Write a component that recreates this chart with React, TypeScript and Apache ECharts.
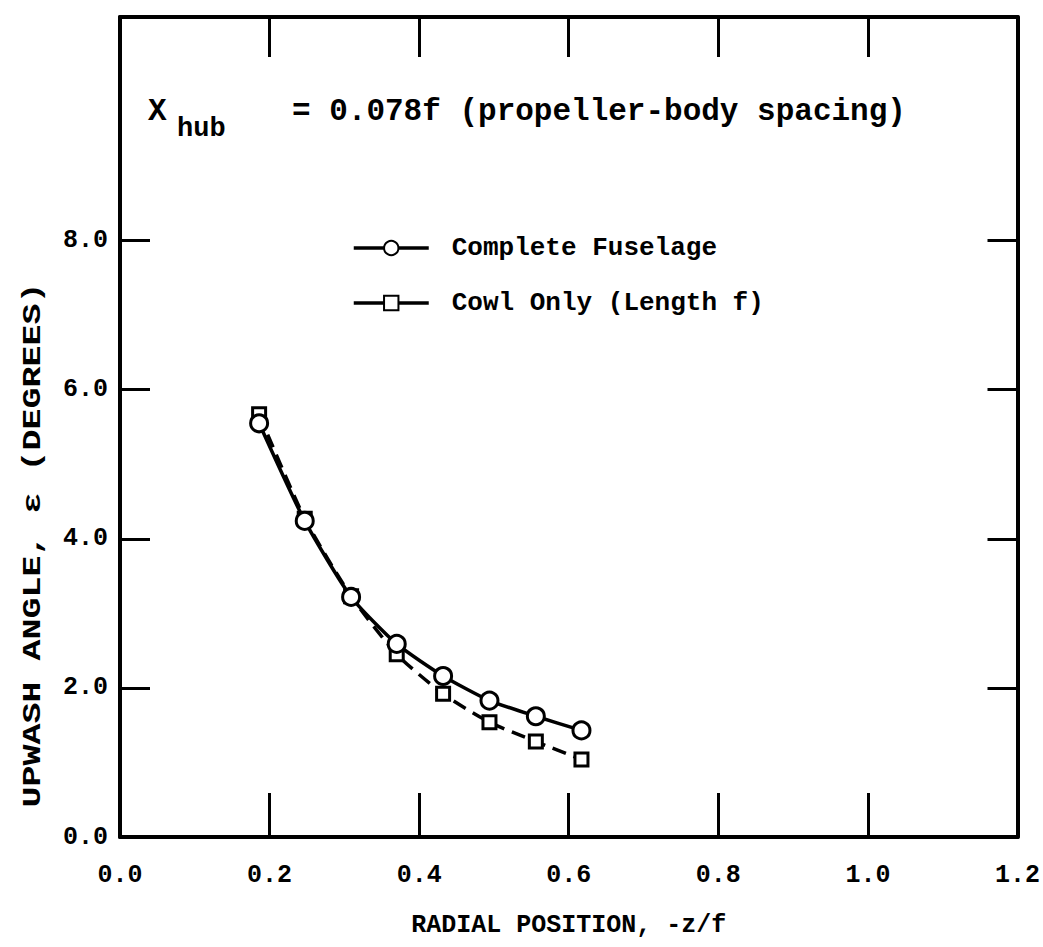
import React, { useEffect, useRef } from "react";
import * as echarts from "echarts";

const radialPosition = [0.186, 0.247, 0.309, 0.370, 0.432, 0.494, 0.556, 0.617];
const completeFuselage = [5.55, 4.24, 3.22, 2.59, 2.16, 1.83, 1.62, 1.43];
const cowlOnly = [5.67, 4.27, 3.23, 2.45, 1.92, 1.54, 1.28, 1.04];
const yTickValues = [2, 4, 6, 8];
const yLabelValues = [0, 2, 4, 6, 8];

const FONT = "Liberation Mono";

export default function App() {
  const ref = useRef<HTMLDivElement>(null);
  useEffect(() => {
    if (!ref.current) return;
    const chart = echarts.init(ref.current, undefined, { renderer: "svg" });
    const axisLine = { show: true, onZero: false, lineStyle: { color: "#000", width: 4 } };
    const xCommon = {
      type: "value" as const,
      min: 0,
      max: 1.2,
      interval: 0.2,
      splitLine: { show: false },
      axisLine,
    };
    const yCommon = {
      type: "value" as const,
      min: 0,
      max: 11,
      interval: 2,
      splitLine: { show: false },
      axisLine,
    };
    chart.setOption({
      animation: false,
      backgroundColor: "#fff",
      grid: { left: 120, right: 20, top: 17, bottom: 110, containLabel: false },
      legend: {
        orient: "vertical",
        left: 347,
        top: 228,
        itemWidth: 75,
        itemHeight: 18,
        itemGap: 25,
        lineStyle: { type: "solid", width: 3.5, color: "#000" },
        textStyle: {
          fontSize: 26,
          fontFamily: FONT,
          fontWeight: "bold",
          color: "#000",
          padding: [0, 0, 0, 18],
          lineHeight: 30,
        },
        data: ["Complete Fuselage", "Cowl Only (Length f)"],
      },
      xAxis: [
        {
          ...xCommon,
          position: "bottom",
          name: "RADIAL POSITION, -z/f",
          nameLocation: "middle",
          nameGap: 76,
          nameTextStyle: { fontSize: 25, fontFamily: FONT, fontWeight: "bold", color: "#000" },
          axisTick: { show: true, inside: true, length: 44, lineStyle: { color: "#000", width: 3 } },
          axisLabel: {
            fontSize: 25,
            fontFamily: FONT,
            fontWeight: "bold",
            color: "#000",
            margin: 26,
            formatter: (v: number) => v.toFixed(1),
          },
        },
        {
          ...xCommon,
          position: "top",
          axisTick: { show: true, inside: true, length: 40, lineStyle: { color: "#000", width: 3 } },
          axisLabel: { show: false },
        },
      ],
      yAxis: [
        {
          ...yCommon,
          position: "left",
          axisTick: {
            show: true,
            inside: true,
            length: 30,
            customValues: yTickValues,
            lineStyle: { color: "#000", width: 3 },
          },
          axisLabel: {
            fontSize: 25,
            fontFamily: FONT,
            fontWeight: "bold",
            color: "#000",
            margin: 12,
            customValues: yLabelValues,
            formatter: (v: number) => v.toFixed(1),
          },
        },
        {
          ...yCommon,
          position: "right",
          axisTick: {
            show: true,
            inside: true,
            length: 30,
            customValues: yTickValues,
            lineStyle: { color: "#000", width: 3 },
          },
          axisLabel: { show: false },
        },
      ],
      graphic: [
        {
          type: "text",
          left: 148,
          top: 96,
          style: { text: "X", fontSize: 31, fontFamily: FONT, fontWeight: "bold", fill: "#000" },
        },
        {
          type: "text",
          left: 177,
          top: 115,
          style: { text: "hub", fontSize: 27, fontFamily: FONT, fontWeight: "bold", fill: "#000" },
        },
        {
          type: "text",
          left: 292,
          top: 96,
          style: {
            text: "= 0.078f (propeller-body spacing)",
            fontSize: 31,
            fontFamily: FONT,
            fontWeight: "bold",
            fill: "#000",
          },
        },
        {
          type: "text",
          x: 33,
          y: 545,
          rotation: Math.PI / 2,
          scaleX: 1.4,
          style: {
            text: "UPWASH ANGLE, \u03b5 (DEGREES)",
            fontSize: 25,
            fontFamily: FONT,
            fontWeight: "bold",
            fill: "#000",
            align: "center",
            verticalAlign: "middle",
          },
        },
      ],
      series: [
        {
          name: "Cowl Only (Length f)",
          type: "line",
          xAxisIndex: 0,
          yAxisIndex: 0,
          data: radialPosition.map((x, i) => [x, cowlOnly[i]]),
          smooth: 0.2,
          symbol: "rect",
          symbolSize: 13,
          itemStyle: { color: "#fff", borderColor: "#000", borderWidth: 3 },
          lineStyle: { color: "#000", width: 3.5, type: [14, 8] },
          z: 2,
        },
        {
          name: "Complete Fuselage",
          type: "line",
          xAxisIndex: 0,
          yAxisIndex: 0,
          data: radialPosition.map((x, i) => [x, completeFuselage[i]]),
          smooth: 0.2,
          symbol: "circle",
          symbolSize: 17,
          itemStyle: { color: "#fff", borderColor: "#000", borderWidth: 3 },
          lineStyle: { color: "#000", width: 3.5, type: "solid" },
          z: 3,
        },
      ],
    });
    return () => chart.dispose();
  }, []);
  return (
    <div
      ref={ref}
      style={{ position: "absolute", left: 0, top: 0, width: 1043, height: 947, background: "#fff" }}
    />
  );
}
